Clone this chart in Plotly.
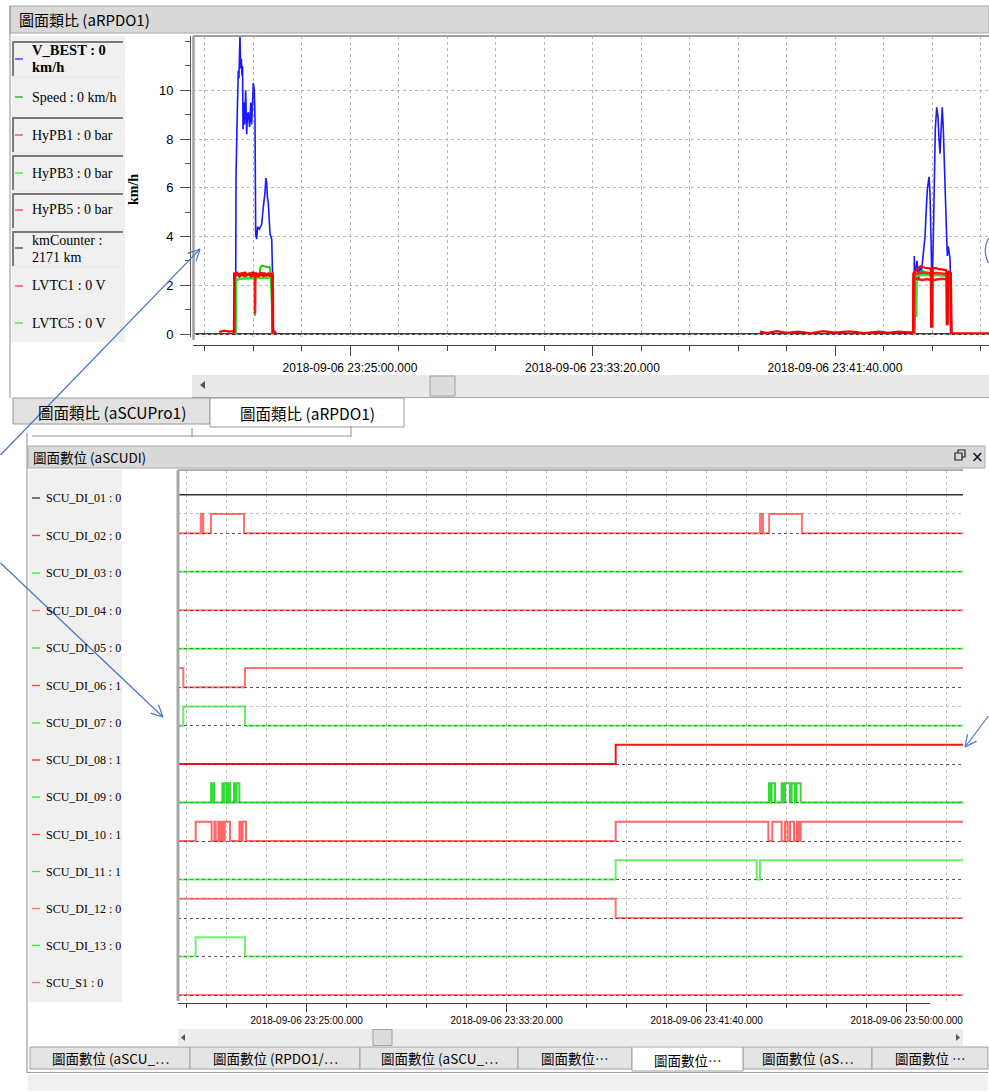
import numpy as np
import pandas as pd
import plotly.graph_objects as go

W, H = 989, 1092
BASE = pd.Timestamp("2018-09-06 23:25:00")
SERIF = "Liberation Serif"
SANS = "Liberation Sans"
CJK = "Noto Sans CJK TC"

# ---------------- analog chart data (seconds after 23:25:00; None = no sample) ----------------
VBEST_T = [-236.5, -236.0, -235.7, -235.0, -232.5, -230.3, -229.0, -228.0, -226.8, -225.5,
           -224.0, -222.7, -221.5, -220.6, -219.0, -217.5, -215.1, -213.0, -211.5, -209.7,
           -207.0, -204.7, -202.7, -199.4, -197.3, -195.9, -194.4, -192.4, -190.5, -187.0,
           -182.1, -178.8, -175.3, -173.5, -171.8, -170.2, -168.5, -164.9, -161.4, -159.4,
           -158.1, 500, 1162.9, 1163.5, 1164.5, 1166.0, 1169.0, 1172.0, 1175.0, 1178.0, 1182.0,
           1185.6, 1187.6, 1190.3, 1193.8, 1195.9, 1198.0, 1200.0, 1202.7, 1204.7, 1206.8,
           1209.7, 1212.4, 1214.4, 1216.5, 1218.6, 1221.2, 1223.3, 1226.2, 1228.9, 1231.5,
           1233.6, 1237.1, 1239.2, 1240.6]
VBEST_V = [0, 0, 1.8, 6.45, 9.0, 10.8, 10.5, 11.6, 12.3, 10.9,
           11.3, 10.6, 11.0, 8.4, 9.5, 8.6, 10.0, 8.2, 9.0, 9.1,
           8.5, 9.5, 8.6, 10.3, 10.0, 8.8, 4.1, 3.9, 4.4, 4.3,
           4.5, 5.2, 5.8, 6.4, 6.2, 5.6, 5.4, 4.1, 3.9, 2.2,
           0, None, 0, 3.2, 0.6, 2.6, 3.0, 2.2, 2.8, 2.5, 3.3,
           4.0, 4.9, 5.9, 6.45, 5.8, 3.9, 1.8, 3.9, 6.1, 8.4,
           9.3, 8.9, 8.0, 7.4, 8.3, 9.3, 8.4, 6.9, 4.8, 3.2,
           3.6, 3.1, 0.5, 0]

SPEED_T = [-236.2, -235.1, -230, -220, -210, -200, -196.2, -195.8, -195.2,
           -190, -186.2, -185.4, -182, -176, -170, -166, -164.9, -161.4, -159.0,
           -158.2, 500, 1164.0, 1164.9, 1170, 1178.8, 1185, 1195, 1205, 1215, 1225,
           1235, 1238.8, 1239.8]
SPEED_V = [0, 2.2, 2.25, 2.28, 2.3, 2.32, 2.3, 0.75, 2.3,
           2.32, 2.35, 2.7, 2.8, 2.78, 2.74, 2.75, 2.7, 1.5, 0.7,
           0, None, 0, 2.4, 2.45, 2.6, 2.55, 2.5, 2.48, 2.5, 2.46,
           2.45, 2.4, 0]

HYPB1_T = [-268, -267.5, -259, -250, -241.2, -239.2, -238.6, -236, -232,
           -228, -224, -220, -216, -212, -208, -204, -200, -196, -192,
           -188, -184, -180, -176, -172, -168, -164, -160.5, -159.6, -158.8,
           -155, -152.6, 300, 845, 860, 880, 900, 925, 950, 975, 1000,
           1030, 1060, 1090, 1110, 1129.9, 1144.3, 1150, 1161.0, 1161.8, 1166,
           1172, 1178, 1185, 1192, 1197.5, 1198.2, 1200.8, 1201.4, 1208, 1215,
           1222, 1229.5, 1230.3, 1232.5, 1233.6, 1237, 1239.0, 1239.6, 1330]
HYPB1_V = [0.05, 0.1, 0.14, 0.1, 0.12, 0.05, 2.5, 2.42, 2.5,
           2.38, 2.48, 2.4, 2.52, 2.41, 2.47, 2.39, 2.5, 2.43, 2.46,
           2.38, 2.5, 2.42, 2.47, 2.4, 2.49, 2.41, 2.45, 0.12, 0.1,
           0.1, 0.02, None, 0.1, 0.04, 0.12, 0.05, 0.1, 0.03, 0.12, 0.06,
           0.11, 0.04, 0.1, 0.05, 0.1, 0.08, 0.05, 0.06, 2.5, 2.6,
           2.72, 2.78, 2.72, 2.7, 2.68, 0.3, 0.3, 2.7, 2.7, 2.66,
           2.64, 2.62, 0.4, 0.4, 2.58, 2.55, 2.5, 0.03, 0.03]

HYPB3_T = [-236.0, -235.4, -225, -215, -205, -195, -185, -175, -165,
           -160.6, -160.0, 500, 1164.3, 1164.8, 1167.5, 1168.3, 1169.0, 1180, 1195, 1210,
           1225, 1238.5, 1239.5]
HYPB3_V = [0, 2.25, 2.28, 2.3, 2.3, 2.32, 2.3, 2.31, 2.3,
           2.28, 0, None, 0, 2.35, 2.38, 0.7, 2.38, 2.42, 2.4, 2.42,
           2.38, 2.4, 0]

HYPB5_T = [-238.8, -238.3, -234, -228, -222, -216, -210, -204, -198,
           -196.2, -195.8, -195.3, -190, -184, -178, -172, -166, -161, -159.2,
           -158.6, 500, 1161.5, 1162.2, 1166, 1172, 1180, 1190, 1200, 1210, 1220,
           1230, 1236, 1238.6, 1239.2]
HYPB5_V = [0, 2.4, 2.45, 2.36, 2.44, 2.38, 2.46, 2.37, 2.43,
           2.4, 0.85, 2.42, 2.38, 2.45, 2.37, 2.44, 2.39, 2.42, 2.4,
           0, None, 0, 2.35, 2.28, 2.25, 2.22, 2.26, 2.2, 2.24, 2.27,
           2.25, 2.3, 2.28, 0]

KMCOUNTER_T = [-330, 1330]
KMCOUNTER_V = [2171, 2171]

LVTC1_T = [-238.5, -238.0, -230, -220, -210, -200, -190, -180, -170,
           -160.2, -159.5, 500, 1161.8, 1162.4, 1163.2, 1164.0, 1170, 1180, 1190, 1200,
           1210, 1220, 1230, 1238.5, 1239.4]
LVTC1_V = [0, 2.48, 2.44, 2.5, 2.45, 2.52, 2.46, 2.5, 2.44,
           2.48, 0, None, 0, 2.5, 0.5, 2.45, 2.48, 2.52, 2.5, 2.47,
           2.5, 2.48, 2.46, 2.45, 0]

LVTC5_T = [-236.0, -235.6, -220, -200, -180, -162, -161.2, -160.4, 500, 1164.5,
           1165.2, 1180, 1200, 1220, 1238.2, 1239.0]
LVTC5_V = [0, 2.22, 2.26, 2.28, 2.27, 2.3, 0.9, 0, None, 0,
           2.42, 2.46, 2.44, 2.45, 2.42, 0]

TOP_LEGEND_LINE1 = ["V_BEST : 0", "Speed : 0 km/h", "HyPB1 : 0 bar", "HyPB3 : 0 bar",
                    "HyPB5 : 0 bar", "kmCounter :", "LVTC1 : 0 V", "LVTC5 : 0 V"]
TOP_LEGEND_LINE2 = ["km/h", "", "", "", "", "2171 km", "", ""]
Y_TICKS = [0, 2, 4, 6, 8, 10]

# ---------------- digital chart data ----------------
DI_NAMES = ["SCU_DI_01", "SCU_DI_02", "SCU_DI_03", "SCU_DI_04", "SCU_DI_05", "SCU_DI_06",
            "SCU_DI_07", "SCU_DI_08", "SCU_DI_09", "SCU_DI_10", "SCU_DI_11", "SCU_DI_12",
            "SCU_DI_13", "SCU_S1"]
DI_NOW = [0, 0, 0, 0, 0, 1, 0, 1, 0, 1, 1, 0, 0, 0]
DI_INIT = [0, 0, 0, 0, 0, 1, 0, 0, 0, 0, 0, 1, 0, 0]
DI_TOGGLES = [
    [],
    [-265, -263, -261.5, -258.5, -239.25, -156.75, 1133, 1135, 1137, 1141, 1156, 1238],
    [],
    [],
    [],
    [-308.5, -154.25],
    [-308.5, -154.25],
    [772.5],
    [-239, -237, -235, -231.5, -210.9, -208.4, -205.9, -200.1, -198.4, -196, -194.5, -191.75,
     -181.75, -177.6, -175.1, -168.4, 1155.75, 1159.9, 1162.4, 1170.75, 1187.4, 1191.6,
     1195.75, 1208.25, 1212.4, 1220.75, 1224.9, 1234.9],
    [-277.5, -237.6, -230.9, -227.6, -220.9, -218.5, -217.5, -214.2, -213.3, -209.9, -208.8,
     -206.0, -204.9, -191.75, -168.4, -163.4, -160.1, -151.75, 772.5, 1154.1, 1164.1, 1187.4,
     1195.75, 1202.4, 1208.25, 1218.25, 1224.9, 1229.9, 1234.9],
    [772.5, 1124.9, 1133.25],
    [772.5],
    [-277.6, -154.25],
    [],
]
DI_T_START, DI_T_END = -321.75, 1640.75

# ---------------- helpers ----------------
def d(s):
    return (BASE + pd.Timedelta(seconds=float(s))).strftime("%Y-%m-%d %H:%M:%S.%f")[:-3]

def dl(secs):
    return [d(s) for s in secs]

def X(px):
    return px / W

def Y(py):
    return 1 - py / H

shapes = []
annotations = []

def rect(x0, y0, x1, y1, fill, line=None, lw=1):
    shapes.append(dict(type="rect", xref="paper", yref="paper", x0=X(x0), x1=X(x1),
                       y0=Y(y1), y1=Y(y0), fillcolor=fill,
                       line=dict(color=line if line else "rgba(0,0,0,0)", width=lw if line else 0),
                       layer="above"))

def seg(x0, y0, x1, y1, color, width=1):
    shapes.append(dict(type="line", xref="paper", yref="paper", x0=X(x0), x1=X(x1),
                       y0=Y(y0), y1=Y(y1), line=dict(color=color, width=width), layer="above"))

def txt(x, y, s, size, family, color="#000", xanchor="left", angle=0):
    annotations.append(dict(x=X(x), y=Y(y), xref="paper", yref="paper", text=s, showarrow=False,
                            xanchor=xanchor, yanchor="middle", textangle=angle,
                            font=dict(family=family, size=size, color=color)))

def arrow(x0, y0, x1, y1, color="#4a74c9", width=1.2, L=13, ang=26):
    seg(x0, y0, x1, y1, color, width)
    v = np.array([x0 - x1, y0 - y1], dtype=float)
    v /= np.linalg.norm(v)
    for a in (ang, -ang):
        r = np.radians(a)
        rv = np.array([v[0] * np.cos(r) - v[1] * np.sin(r), v[0] * np.sin(r) + v[1] * np.cos(r)])
        seg(x1, y1, x1 + L * rv[0], y1 + L * rv[1], color, width)

fig = go.Figure()

# ---------------- top analog traces ----------------
top_series = [
    ("kmCounter", KMCOUNTER_T, KMCOUNTER_V, "#333333", 1.5),
    ("V_BEST", VBEST_T, VBEST_V, "#1a1aff", 1.6),
    ("Speed", SPEED_T, SPEED_V, "#00cc00", 1.8),
    ("HyPB3", HYPB3_T, HYPB3_V, "#22ee22", 1.8),
    ("LVTC5", LVTC5_T, LVTC5_V, "#22ee22", 1.8),
    ("HyPB5", HYPB5_T, HYPB5_V, "#ff1414", 2.5),
    ("LVTC1", LVTC1_T, LVTC1_V, "#ff2020", 2.5),
    ("HyPB1", HYPB1_T, HYPB1_V, "#ff0000", 2.2),
]
for name, t, v, c, w in top_series:
    fig.add_trace(go.Scatter(x=dl(t), y=v, mode="lines", name=name, xaxis="x", yaxis="y",
                             connectgaps=False, line=dict(color=c, width=w), hoverinfo="skip"))

# ---------------- bottom digital traces ----------------
DI_COLORS = ["#333333", "rgba(255,0,0,0.55)", "rgba(0,215,0,0.6)", "rgba(255,0,0,0.5)",
             "rgba(0,215,0,0.6)", "rgba(255,0,0,0.55)", "rgba(0,230,0,0.6)", "rgba(230,0,0,0.9)",
             "rgba(0,210,0,0.8)", "rgba(255,0,0,0.6)", "rgba(0,230,0,0.6)", "rgba(255,0,0,0.55)",
             "rgba(0,230,0,0.55)", "rgba(255,0,0,0.5)"]
DI_STUB = ["#333333", "#ff4040", "#33ee33", "#ff7070", "#33ee33", "#ff4040", "#33ee33",
           "#ff2020", "#33ee33", "#ff4040", "#33ee33", "#ff7070", "#33ee33", "#ff7070"]
n = len(DI_NAMES)
for k, name in enumerate(DI_NAMES):
    level = n - 1 - k
    xs = [DI_T_START] + DI_TOGGLES[k] + [DI_T_END]
    st = DI_INIT[k]
    states = [st]
    for _ in DI_TOGGLES[k]:
        st = 1 - st
        states.append(st)
    states.append(st)
    ys = [level + 0.5 * s for s in states]
    fig.add_trace(go.Scatter(x=dl(xs), y=ys, mode="lines", line_shape="hv", name=name,
                             xaxis="x2", yaxis="y2",
                             line=dict(color=DI_COLORS[k], width=1.5 if k == 0 else 2),
                             hoverinfo="skip"))

fig.add_trace(go.Scatter(x=[d(0)], y=[0.5], xaxis="x3", yaxis="y3", mode="markers",
                         marker=dict(opacity=0), hoverinfo="skip"))

DATEFMT = "%Y-%m-%d %H:%M:%S.%L"
GRID = "#b8b8b8"

layout_axes = dict(
    xaxis=dict(domain=[X(193), 1], type="date", range=[d(-323.7), d(1317.5)],
               anchor="free", position=Y(345), showline=True, linecolor="#444", linewidth=1,
               ticks="outside", ticklen=10, tickcolor="#444", tick0=d(0), dtick=500000,
               tickformat=DATEFMT, tickfont=dict(family=SANS, size=12, color="#000"),
               showgrid=True, gridcolor=GRID, griddash="dot", gridwidth=1, zeroline=False,
               ticklabelstandoff=2, fixedrange=True, automargin=False,
               minor=dict(tick0=d(0), dtick=100000, ticks="outside", ticklen=5, tickcolor="#444",
                          showgrid=True, gridcolor=GRID, griddash="dot", gridwidth=1)),
    yaxis=dict(domain=[Y(337), Y(36)], range=[-0.123, 12.23], anchor="free", position=X(190),
               showline=True, linecolor="#555", linewidth=1, ticks="outside", ticklen=10,
               tickcolor="#555", tickmode="array", tickvals=Y_TICKS,
               ticktext=[str(v) for v in Y_TICKS], automargin=False,
               tickfont=dict(family=SANS, size=13, color="#000"), showgrid=True, gridcolor=GRID,
               griddash="dot", gridwidth=1, zeroline=False, ticklabelstandoff=4, fixedrange=True,
               minor=dict(tickmode="linear", tick0=0, dtick=1, ticks="outside", ticklen=5,
                          tickcolor="#555", showgrid=False)),
    xaxis2=dict(domain=[X(178), X(963)], type="date", range=[d(-321.75), d(1640.75)],
                anchor="y2", showticklabels=False, ticks="", showline=False, zeroline=False,
                tick0=d(0), dtick=500000, showgrid=True, gridcolor="#c4c4c4", griddash="dot",
                automargin=False,
                minor=dict(tick0=d(0), dtick=100000, ticks="", showgrid=True,
                           gridcolor="#c4c4c4", griddash="dot")),
    yaxis2=dict(domain=[Y(1001), Y(470)], range=[-0.153, 13.64], anchor="x2",
                tickmode="array", tickvals=list(range(0, n - 1)), showticklabels=False, ticks="",
                showgrid=True, gridcolor="#555555", griddash="dot", gridwidth=1, zeroline=False,
                showline=False, automargin=False,
                minor=dict(tickmode="array", tickvals=[12.5, 7.5, 2.5], ticks="", showgrid=True,
                           gridcolor="#c0c0c0", griddash="dot", gridwidth=1)),
    xaxis3=dict(domain=[X(178), X(930)], type="date", range=[d(-321.75), d(1558.25)],
                anchor="free", position=Y(1003), showline=True, linecolor="#444",
                linewidth=1, ticks="outside", ticklen=8, tickcolor="#444", tick0=d(0),
                dtick=500000, tickformat=DATEFMT, automargin=False,
                tickfont=dict(family=SANS, size=10, color="#000"), showgrid=False,
                zeroline=False, ticklabelstandoff=0,
                minor=dict(tick0=d(0), dtick=100000, ticks="outside", ticklen=4,
                           tickcolor="#444", showgrid=False)),
    yaxis3=dict(domain=[Y(1001), Y(470)], range=[0, 1], anchor="x3", visible=False),
)

# ---------------- UI chrome: top panel ----------------
rect(10, 6, 989, 33, "#d9d9d9", "#a8a8a8", 1)
seg(10, 6, 10, 398, "#909090", 1)
txt(17, 19.5, "圖面類比 (aRPDO1)", 15, CJK)

rect(12, 36, 125, 342, "#f0f0f0")
stub_y = [59, 97, 135, 173, 210, 248, 286, 323]
line1_y = [50, 97, 135, 173, 210, 240, 286, 323]
line2_y = [67, 0, 0, 0, 0, 257, 0, 0]
boxed = [True, False, True, True, True, True, False, False]
box_top = [42, 0, 118, 156, 194, 232, 0, 0]
stub_col = ["#2a2aff", "#22aa22", "#ff4040", "#33ee33", "#ff4040", "#444444", "#ff4040", "#33ee33"]
for i in range(len(TOP_LEGEND_LINE1)):
    if boxed[i]:
        seg(12, box_top[i], 123, box_top[i], "#7a7a7a", 2)
        seg(13, box_top[i], 13, box_top[i] + 34, "#7a7a7a", 2)
        seg(12, box_top[i] + 35, 123, box_top[i] + 35, "#e4e4e4", 1)
    seg(15, stub_y[i], 23, stub_y[i], stub_col[i], 1.3)
    s1 = TOP_LEGEND_LINE1[i]
    s2 = TOP_LEGEND_LINE2[i]
    if i == 0:
        txt(30, line1_y[i], "<b>" + s1 + "</b>", 14.5, SERIF)
        txt(30, line2_y[i], "<b>" + s2 + "</b>", 14.5, SERIF)
    else:
        txt(30, line1_y[i], s1, 14, SERIF)
        if s2:
            txt(30, line2_y[i], s2, 14, SERIF)

txt(133, 190, "<b>km/h</b>", 14, SERIF, angle=-90, xanchor="center")

seg(193, 36, 989, 36, "#a0a0a0", 2)
seg(193.5, 36, 193.5, 340, "#a0a0a0", 2.5)
shapes.append(dict(type="line", xref="paper", yref="y", x0=X(193), x1=1, y0=0, y1=0,
                   line=dict(color="#000", width=1.5), layer="below"))

rect(192, 375, 989, 397, "#e9e9e9")
seg(192, 397.5, 989, 397.5, "#a8a8a8", 1)
rect(430, 376, 455, 396, "#dcdcdc", "#a0a0a0", 1)
shapes.append(dict(type="path", xref="paper", yref="paper",
                   path=f"M {X(200)} {Y(385)} L {X(205)} {Y(381)} L {X(205)} {Y(389)} Z",
                   fillcolor="#555", line=dict(width=0), layer="above"))

rect(13, 398, 210, 424, "#e2e2e2", "#9a9a9a", 1)
rect(210, 398, 404, 427, "#ffffff", "#9a9a9a", 1)
txt(112, 412, "圖面類比 (aSCUPro1)", 15.5, CJK, xanchor="center")
txt(307, 413, "圖面類比 (aRPDO1)", 15.5, CJK, xanchor="center")
seg(32, 436, 351, 436, "#909090", 1)
seg(192, 428, 192, 437, "#909090", 1)
seg(351, 426, 351, 437, "#909090", 1)

# ---------------- UI chrome: bottom panel ----------------
seg(27, 433, 27, 1073, "#8a8a8a", 1)
rect(28, 446, 985, 468, "#d9d9d9", "#aaaaaa", 1)
txt(31, 457, "圖面數位 (aSCUDI)", 13.5, CJK)
rect(958, 450, 965, 457, "rgba(0,0,0,0)", "#222", 1.2)
rect(955, 453, 962, 460, "#d9d9d9", "#222", 1.2)
txt(977, 456.5, "×", 15, "DejaVu Sans", xanchor="center")

rect(29, 470, 122, 1002, "#f0f0f0")
leg_y = [498, 535.5, 573, 610.5, 648, 685.5, 723, 760, 797, 834.5, 871.5, 908.5, 945.5, 982.5]
for k, name in enumerate(DI_NAMES):
    seg(32, leg_y[k], 40, leg_y[k], DI_STUB[k], 1.3)
    txt(44, leg_y[k], f"{name} : {DI_NOW[k]}", 12, SERIF)

seg(178, 470, 963, 470, "#b0b0b0", 2)
seg(178, 470, 178, 1001, "#a8a8a8", 3)

rect(178, 1029, 963, 1046, "#ececec")
rect(373, 1029.5, 392, 1045.5, "#dcdcdc", "#a0a0a0", 1)
shapes.append(dict(type="path", xref="paper", yref="paper",
                   path=f"M {X(181)} {Y(1037.5)} L {X(185)} {Y(1034)} L {X(185)} {Y(1041)} Z",
                   fillcolor="#555", line=dict(width=0), layer="above"))
shapes.append(dict(type="path", xref="paper", yref="paper",
                   path=f"M {X(960)} {Y(1037.5)} L {X(956)} {Y(1034)} L {X(956)} {Y(1041)} Z",
                   fillcolor="#555", line=dict(width=0), layer="above"))

tabs = [(30, 190, "圖面數位 (aSCU_…"), (190, 360, "圖面數位 (RPDO1/…"),
        (360, 518, "圖面數位 (aSCU_…"), (518, 632, "圖面數位…"), (632, 743, "圖面數位…"),
        (743, 872, "圖面數位 (aS…"), (872, 988, "圖面數位 …")]
for i, (a, b, s) in enumerate(tabs):
    if i == 4:
        continue
    rect(a, 1047, b, 1069, "#e4e4e4", "#a0a0a0", 1)
    txt((a + b) / 2, 1058, s, 13.5, CJK, xanchor="center")
a, b, s = tabs[4]
rect(a, 1047, b, 1071, "#ffffff", "#a0a0a0", 1)
txt((a + b) / 2, 1059.5, s, 13.5, CJK, xanchor="center")
seg(27, 1072.5, 988, 1072.5, "#a0a0a0", 1)
rect(28, 1074, 988, 1091, "#f0f0f0")

# ---------------- blue annotation arrows ----------------
arrow(0.5, 455, 200, 249)
arrow(0.5, 563, 163, 717)
arrow(988.5, 716, 965, 747)
shapes.append(dict(type="path", xref="paper", yref="paper",
                   path=f"M {X(988.5)} {Y(238)} Q {X(982)} {Y(250)} {X(988.5)} {Y(263)}",
                   line=dict(color="#4a74c9", width=1.2), layer="above"))

fig.update_layout(
    width=W, height=H, autosize=False,
    margin=dict(l=0, r=0, t=0, b=0, pad=0, autoexpand=False),
    paper_bgcolor="#ffffff", plot_bgcolor="rgba(0,0,0,0)",
    showlegend=False, shapes=shapes, annotations=annotations,
    **layout_axes,
)

fig.write_html("out.html", config={"displayModeBar": False})
